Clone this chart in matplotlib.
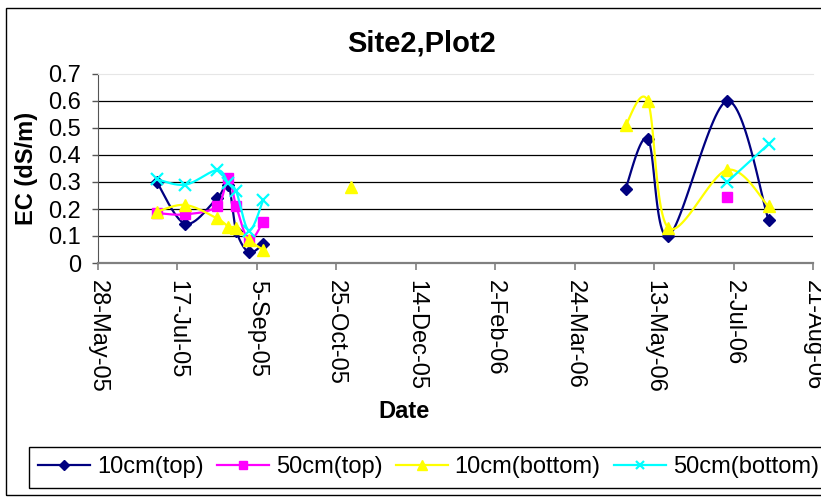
"""EC at site 2 plot 2, excel style smoothed lines"""

import numpy as np
import matplotlib
matplotlib.use('Agg')
import matplotlib.pyplot as plt
import matplotlib.dates as mdates
from matplotlib.lines import Line2D
from matplotlib.patches import Rectangle
from matplotlib.ticker import FuncFormatter

nan = np.nan

# sampling dates, campaign = which run of visits a date belongs to (lines only join inside one)
dates = ['2005-07-04', '2005-07-22', '2005-08-11', '2005-08-18', '2005-08-23', '2005-08-31',
         '2005-09-09', '2005-11-03', '2006-04-25', '2006-05-09', '2006-05-22', '2006-06-28',
         '2006-07-24']
campaign = [1, 1, 1, 1, 1, 1, 1, 2, 3, 3, 3, 3, 3]

top_10cm = [0.30, 0.145, 0.24, 0.29, 0.12, 0.04, 0.07, nan, 0.275, 0.46, 0.10, 0.60, 0.16]
top_50cm = [0.185, 0.18, 0.21, 0.315, 0.21, 0.085, 0.153, nan, nan, nan, nan, 0.245, nan]
bottom_10cm = [0.19, 0.215, 0.165, 0.135, 0.13, 0.085, 0.048, 0.28, 0.51, 0.60, 0.13, 0.345, 0.21]
bottom_50cm = [0.31, 0.29, 0.344, 0.295, 0.265, 0.12, 0.233, nan, nan, nan, nan, 0.30, 0.44]

labels = ['10cm(top)', '50cm(top)', '10cm(bottom)', '50cm(bottom)']
tick_dates = ['2005-05-28', '2005-07-17', '2005-09-05', '2005-10-25', '2005-12-14',
              '2006-02-02', '2006-03-24', '2006-05-13', '2006-07-02', '2006-08-21']
y_ticks = [0, 0.1, 0.2, 0.3, 0.4, 0.5, 0.6, 0.7]

FONT = 'Liberation Sans'
W, H = 821, 499


def to_num(d):
    return mdates.date2num(np.array(d, dtype='datetime64[D]'))


def smooth(ax, x, y, n=30):
    """bezier through the points like excel's 'smoothed line', done in pixel space"""
    pts = ax.transData.transform(np.column_stack([x, y]))
    if len(pts) < 3:
        return np.asarray(x), np.asarray(y)
    out = [pts[0]]
    t = np.linspace(0, 1, n)[1:, None]
    for i in range(len(pts) - 1):
        p0 = pts[max(i - 1, 0)]
        p1 = pts[i]
        p2 = pts[i + 1]
        p3 = pts[min(i + 2, len(pts) - 1)]
        c1 = p1 + (p2 - p0) / 6.0
        c2 = p2 - (p3 - p1) / 6.0
        seg = (1 - t)**3 * p1 + 3 * (1 - t)**2 * t * c1 + 3 * (1 - t) * t**2 * c2 + t**3 * p2
        out.extend(seg)
    back = ax.transData.inverted().transform(np.array(out))
    return back[:, 0], back[:, 1]


def segments(x, y, groups):
    """split a series wherever there is a blank or a new campaign"""
    cur = []
    for xi, yi, g in zip(x, y, groups):
        if np.isnan(yi):
            if cur:
                yield cur
            cur = []
            continue
        if cur and cur[-1][2] != g:
            yield cur
            cur = []
        cur.append((xi, yi, g))
    if cur:
        yield cur


fig = plt.figure(figsize=(W / 100, H / 100), dpi=100)
ax = fig.add_axes([98 / W, 1 - 263 / H, (813 - 98) / W, (263 - 74) / H])

x = to_num(dates)
ax.set_xlim(to_num(tick_dates[0]), to_num(tick_dates[-1]))
ax.set_ylim(0, 0.7)

styles = [
    dict(color='#000080', marker='D', ms=6.5),
    dict(color='#FF00FF', marker='s', ms=7),
    dict(color='#FFFF00', marker='^', ms=9),
    dict(color='#00FFFF', marker='x', ms=8, mew=1.6),
]
series = [top_10cm, top_50cm, bottom_10cm, bottom_50cm]

handles = []
for k, (vals, st) in enumerate(zip(series, styles)):
    vals = np.array(vals, dtype=float)
    for seg in segments(x, vals, campaign):
        sx = [p[0] for p in seg]
        sy = [p[1] for p in seg]
        if len(seg) > 1:
            lx, ly = smooth(ax, sx, sy)
            ax.plot(lx, ly, color=st['color'], lw=1.6, zorder=3 + k, clip_on=False)
    ax.plot(x, vals, linestyle='none', marker=st['marker'], ms=st['ms'],
            mew=st.get('mew', 1), color=st['color'], zorder=3 + k, clip_on=False)
    handles.append(Line2D([], [], color=st['color'], lw=1.6, marker=st['marker'],
                          ms=st['ms'] * 0.8, mew=st.get('mew', 1)))

# gridlines, the top one is just the light plot border
for v in y_ticks[1:-1]:
    ax.axhline(v, color='black', lw=0.9, zorder=1)

ax.spines['right'].set_visible(False)
ax.spines['top'].set_color('#e6e6e6')
ax.spines['left'].set_color('#555555')
ax.spines['bottom'].set_color('#808080')
ax.spines['bottom'].set_linewidth(1.6)

ax.set_xticks(to_num(tick_dates))
ax.xaxis.set_major_formatter(mdates.DateFormatter('%-d-%b-%y'))
ax.set_yticks(y_ticks)
ax.yaxis.set_major_formatter(FuncFormatter(lambda v, pos: '%g' % v))
ax.tick_params(axis='x', length=5, width=1.2, color='#808080', pad=7, labelsize=17,
               labelrotation=-90)
ax.tick_params(axis='y', length=4, width=1, color='#555555', pad=8, labelsize=17)
for lab in ax.get_xticklabels() + ax.get_yticklabels():
    lab.set_fontfamily(FONT)

fig.text(422 / W, 1 - 44 / H, 'Site2,Plot2', ha='center', va='center', fontsize=21,
         fontweight='bold', family=FONT)
fig.text(27 / W, 1 - 168 / H, 'EC (dS/m)', ha='center', va='center', rotation=90,
         fontsize=17, fontweight='bold', family=FONT)
fig.text(404 / W, 1 - 411 / H, 'Date', ha='center', va='center', fontsize=17,
         fontweight='bold', family=FONT)

# outer chart border, runs off the right edge like the original
fig.patches.append(Rectangle((6 / W, 1 - 495 / H), 1.0, (495 - 8) / H, transform=fig.transFigure,
                             fill=False, edgecolor='black', lw=1))

leg = fig.legend(handles, labels, loc='upper left', bbox_to_anchor=(29 / W, 1 - 447 / H), ncol=4,
                 frameon=True, fancybox=False, edgecolor='black', framealpha=1,
                 borderpad=0.4, handlelength=2.2, handletextpad=0.3, columnspacing=0.55,
                 borderaxespad=0, prop={'family': FONT, 'size': 17})
leg.get_frame().set_linewidth(1)

fig.savefig('out.png', dpi=100)
